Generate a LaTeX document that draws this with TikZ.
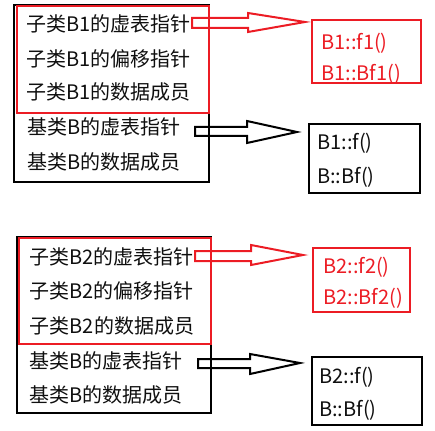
\documentclass[tikz,border=0pt]{standalone}
\usepackage{fontspec}
\setmainfont{Noto Sans CJK SC}
\definecolor{myred}{RGB}{236,28,36}
\definecolor{mytext}{RGB}{15,15,15}
\begin{document}
\begin{tikzpicture}[x=1pt,y=-1pt,line join=miter]
\useasboundingbox (0,0) rectangle (435,430);
\tikzset{
  txt/.style={anchor=base west,inner sep=0pt,text=mytext,font=\fontsize{20}{24}\selectfont},
  redtxt/.style={txt,text=myred},
  boxshape/.style={rectangle,inner sep=0pt},
  blackbox/.style={boxshape,draw=black,line width=2.2pt},
  redbox/.style={boxshape,draw=myred,line width=2.5pt},
  redarrow/.style={draw=myred,line width=2pt},
  blackarrow/.style={draw=black,line width=2pt}
}
% ---------- top group ----------
\node (outerA) [blackbox,minimum width=195pt,minimum height=177pt] at (111.5,93.5) {};
\node (redA) [redbox,minimum width=192pt,minimum height=107pt] at (113,59.5) {};
\node (a1) [txt] at (26,31.5) {子类B1的虚表指针};
\node (a2) [txt] at (26,66.5) {子类B1的偏移指针};
\node (a3) [txt] at (26,100) {子类B1的数据成员};
\node (a4) [txt] at (27,134.5) {基类B的虚表指针};
\node (a5) [txt] at (27,169) {基类B的数据成员};
\node (vtA) [redbox,minimum width=109pt,minimum height=63pt] at (366.5,51.5) {};
\node (vtA1) [redtxt] at (321,50) {B1::f1()};
\node (vtA2) [redtxt] at (321,81) {B1::Bf1()};
\node (btA) [blackbox,minimum width=111pt,minimum height=69pt] at (364.5,158.5) {};
\node (btA1) [txt] at (317,149.5) {B1::f()};
\node (btA2) [txt] at (317,183) {B::Bf()};
\draw[redarrow] (192,18) -- (248,18) -- (248,13) -- (305,22) -- (248,32) -- (248,28) -- (192,28) -- cycle;
\draw[blackarrow] (195,127) -- (247,127) -- (247,121) -- (297,132) -- (247,143) -- (247,136) -- (195,136) -- cycle;
% ---------- bottom group ----------
\node (outerB) [blackbox,minimum width=194pt,minimum height=176pt] at (114,325) {};
\node (redB) [redbox,minimum width=192pt,minimum height=106pt] at (115,291) {};
\node (b1) [txt] at (29,264.5) {子类B2的虚表指针};
\node (b2) [txt] at (29,298.5) {子类B2的偏移指针};
\node (b3) [txt] at (29,333.5) {子类B2\kern1.5pt 的数据成员};
\node (b4) [txt] at (29,368.5) {基类B的虚表指针};
\node (b5) [txt] at (29,402.5) {基类B的数据成员};
\node (vtB) [redbox,minimum width=97pt,minimum height=64pt] at (361.5,280) {};
\node (vtB1) [redtxt] at (323,273) {B2::f2()};
\node (vtB2) [redtxt] at (323,304) {B2::Bf2()};
\node (btB) [blackbox,minimum width=110pt,minimum height=68pt] at (367,391) {};
\node (btB1) [txt] at (319,383) {B2::f()};
\node (btB2) [txt] at (319,416) {B::Bf()};
\draw[redarrow] (195,251) -- (251,251) -- (251,245) -- (303,255) -- (251,265) -- (251,261) -- (195,261) -- cycle;
\draw[blackarrow] (198,359) -- (250,359) -- (250,354) -- (300,363) -- (250,374) -- (250,368) -- (198,368) -- cycle;
\end{tikzpicture}
\end{document}
